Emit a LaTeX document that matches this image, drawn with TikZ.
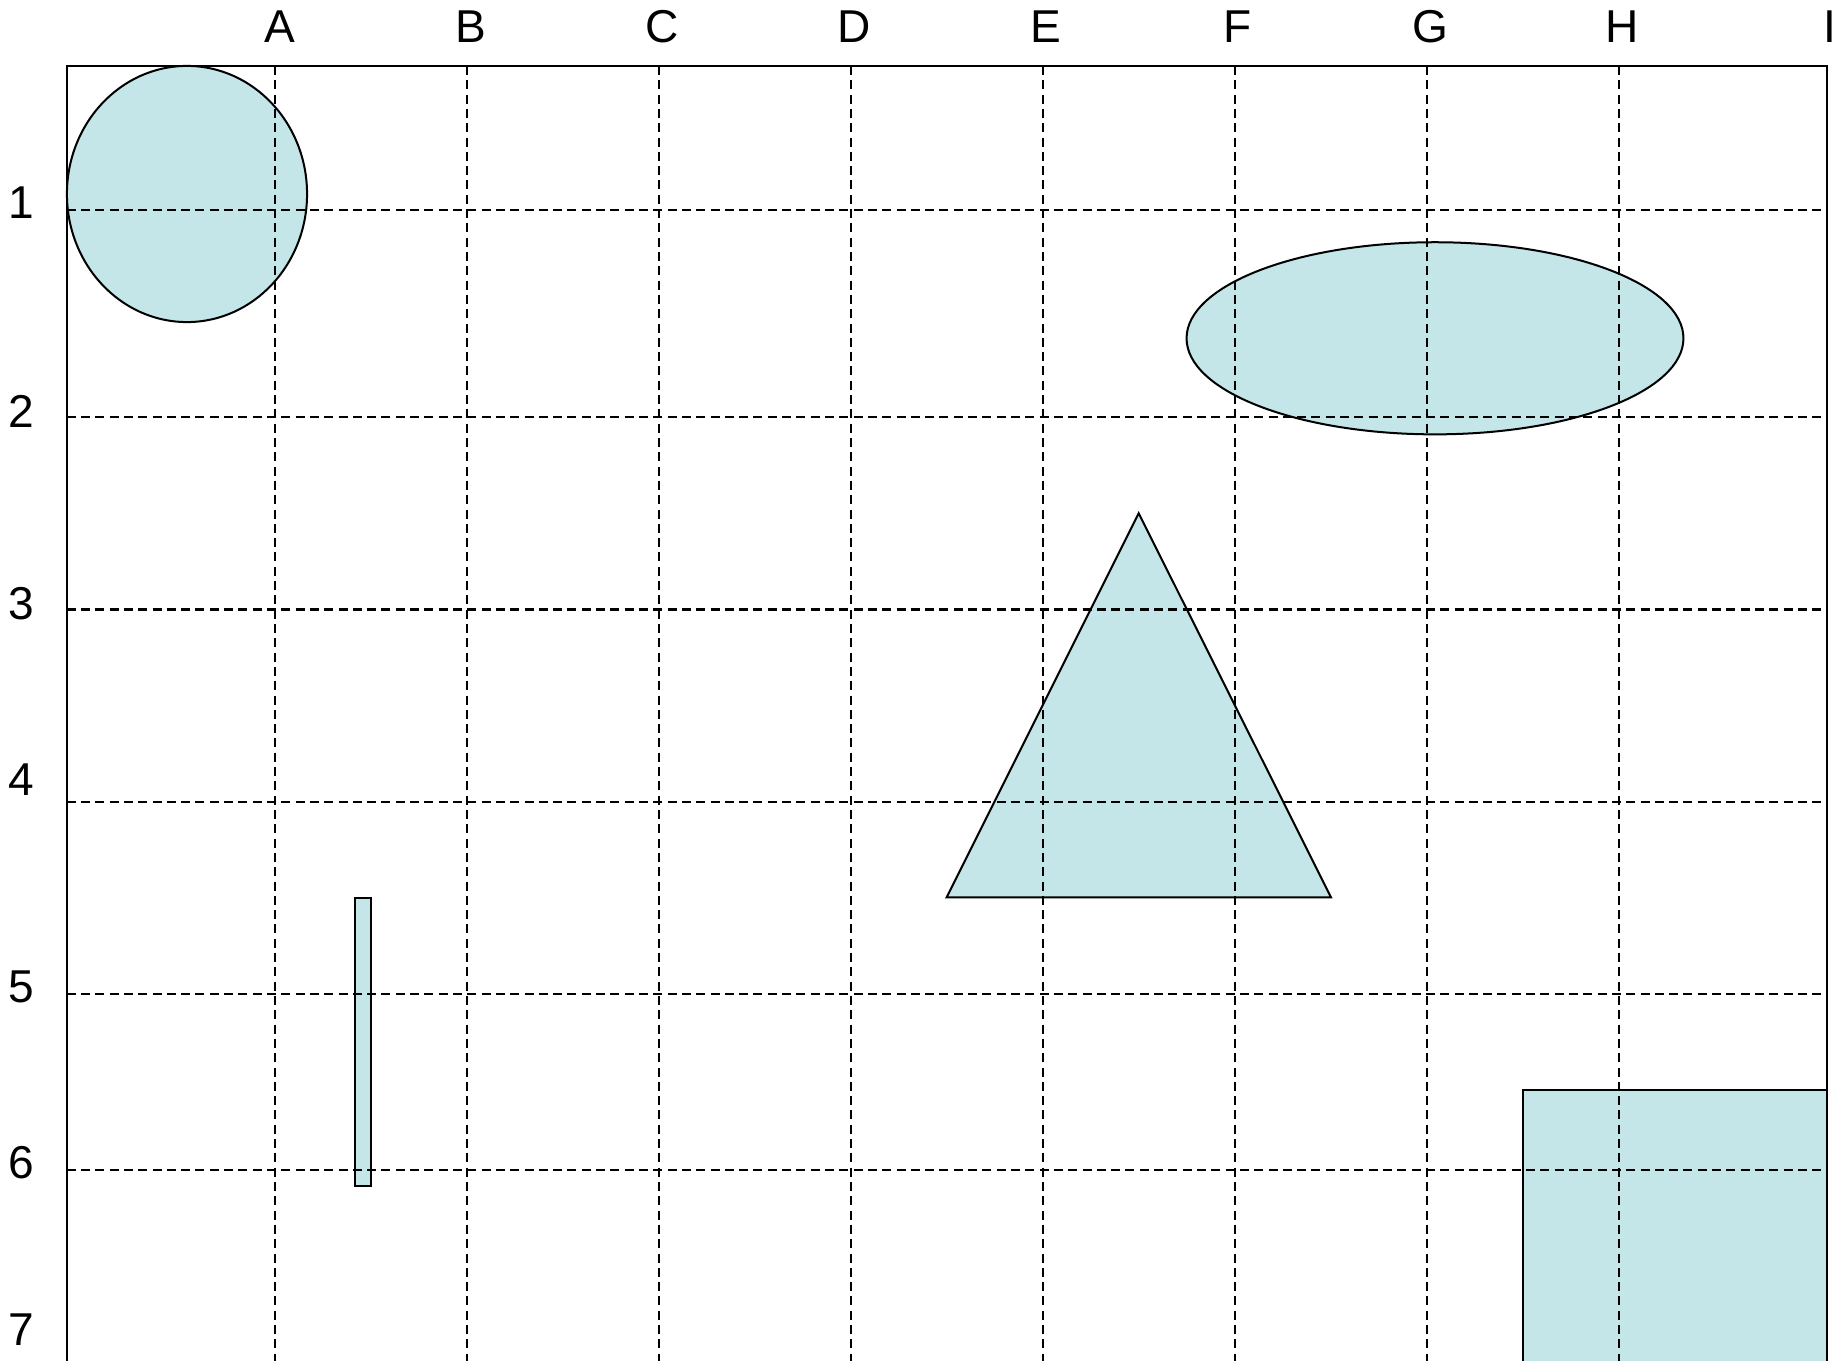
\documentclass[tikz,border=0pt]{standalone}
\usepackage{fontspec}
\setmainfont{Liberation Sans}
\definecolor{shapefill}{RGB}{196,230,232}
\begin{document}
\begin{tikzpicture}[x=0.01cm,y=-0.01cm,
  gridline/.style={dash pattern=on 0.09cm off 0.053cm, line width=0.02cm},
  frameline/.style={line width=0.022cm},
  shapebox/.style={fill=shapefill, draw=black, line width=0.02cm},
  lbl/.style={font=\fontsize{13.1pt}{15pt}\selectfont, inner sep=0pt, anchor=center}]
\useasboundingbox (0,0) rectangle (1845,1361);
\clip (0,0) rectangle (1845,1361);
\fill[white] (0,0) rectangle (1845,1361);
% shapes
\draw[shapebox] (187,194) ellipse [x radius=1.2cm, y radius=1.28cm];
\draw[shapebox] (1435,338.3) ellipse [x radius=2.483cm, y radius=0.96cm];
\draw[shapebox] (1138.7,513.3) -- (1331,897.3) -- (946.7,897.3) -- cycle;
\draw[shapebox] (354.5,898) rectangle (371,1186);
\draw[shapebox] (1522.7,1090) rectangle (1826.7,1420);
% grid
\foreach \k in {0,...,7} {
  \draw[gridline] ({275+192*\k},66) -- ({275+192*\k},1420);
}
\foreach \yy in {209.7,417.5,609.5,802,993.7,1169.7} {
  \draw[gridline] (66.7,\yy) -- (1826.7,\yy);
}
% frame
\draw[frameline] (66.7,1420) -- (66.7,66) -- (1826.7,66) -- (1826.7,1420);
% column labels
\node[lbl] (colA) at (280,27) {A};
\node[lbl] (colB) at (471,27) {B};
\node[lbl] (colC) at (662,27) {C};
\node[lbl] (colD) at (854,27) {D};
\node[lbl] (colE) at (1046,27) {E};
\node[lbl] (colF) at (1238,27) {F};
\node[lbl] (colG) at (1430,27) {G};
\node[lbl] (colH) at (1622,27) {H};
\node[lbl] (colI) at (1830,27) {I};
% row labels
\node[lbl] (row1) at (21,203) {1};
\node[lbl] (row2) at (21,411.7) {2};
\node[lbl] (row3) at (21,603.3) {3};
\node[lbl] (row4) at (21,780) {4};
\node[lbl] (row5) at (21,987) {5};
\node[lbl] (row6) at (21,1163) {6};
\node[lbl] (row7) at (21,1330) {7};
\end{tikzpicture}
\end{document}
